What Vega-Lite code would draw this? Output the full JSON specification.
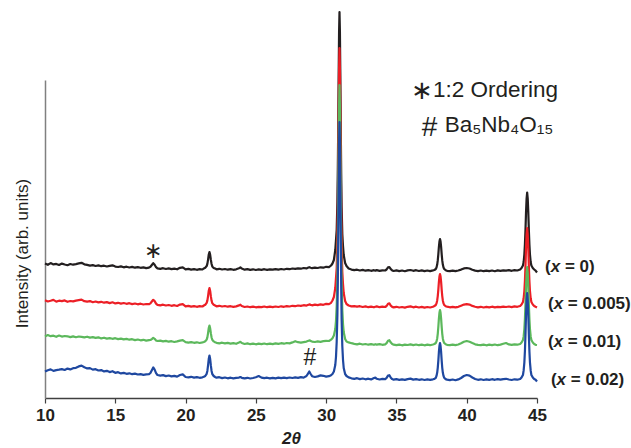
{
"$schema": "https://vega.github.io/schema/vega-lite/v6.json",
"width": 492, "height": 318,
"autosize": {"type": "none"},
"padding": {"left": 45, "top": 80, "right": 94, "bottom": 50},
"background": "white",
"config": {"view": {"stroke": null}, "font": "Liberation Sans"},
"datasets": {
"xrd": [
{"t":10.0,"a":134.5,"b":97.8,"c":61.6,"d":26.4},
{"t":10.2,"a":133.2,"b":96.5,"c":62.9,"d":27.8},
{"t":10.4,"a":134.9,"b":97.2,"c":61.8,"d":28.6},
{"t":10.6,"a":133.6,"b":98.1,"c":62.3,"d":27.1},
{"t":10.8,"a":134.1,"b":96.4,"c":61.2,"d":27.9},
{"t":11.0,"a":133.0,"b":97.3,"c":62.5,"d":28.3},
{"t":11.2,"a":134.4,"b":96.9,"c":61.4,"d":28.9},
{"t":11.4,"a":133.5,"b":97.6,"c":62.0,"d":28.0},
{"t":11.6,"a":132.8,"b":96.2,"c":61.7,"d":29.4},
{"t":11.8,"a":134.0,"b":97.0,"c":60.9,"d":28.6},
{"t":12.0,"a":133.3,"b":96.6,"c":61.6,"d":29.8},
{"t":12.2,"a":133.9,"b":97.4,"c":60.8,"d":30.2},
{"t":12.4,"a":134.6,"b":97.9,"c":61.5,"d":31.6},
{"t":12.6,"a":135.2,"b":98.4,"c":61.1,"d":32.4},
{"t":12.8,"a":133.7,"b":96.8,"c":60.6,"d":30.7},
{"t":13.0,"a":133.1,"b":96.3,"c":61.3,"d":29.6},
{"t":13.2,"a":132.4,"b":96.9,"c":60.4,"d":29.9},
{"t":13.4,"a":132.9,"b":95.8,"c":60.9,"d":28.4},
{"t":13.6,"a":132.0,"b":96.5,"c":60.1,"d":28.8},
{"t":13.8,"a":132.6,"b":95.6,"c":60.7,"d":27.5},
{"t":14.0,"a":131.8,"b":96.2,"c":59.6,"d":27.9},
{"t":14.2,"a":132.3,"b":95.3,"c":60.3,"d":26.6},
{"t":14.4,"a":131.5,"b":95.9,"c":59.4,"d":27.2},
{"t":14.6,"a":132.1,"b":94.9,"c":59.9,"d":25.9},
{"t":14.8,"a":132.7,"b":95.7,"c":59.2,"d":26.8},
{"t":15.0,"a":131.4,"b":94.6,"c":59.8,"d":25.2},
{"t":15.2,"a":131.0,"b":95.2,"c":58.9,"d":25.8},
{"t":15.4,"a":131.6,"b":94.4,"c":59.4,"d":24.6},
{"t":15.6,"a":130.7,"b":95.0,"c":58.6,"d":25.1},
{"t":15.8,"a":131.3,"b":94.2,"c":59.1,"d":24.2},
{"t":16.0,"a":130.5,"b":94.8,"c":58.3,"d":24.7},
{"t":16.2,"a":131.1,"b":93.9,"c":58.8,"d":23.8},
{"t":16.4,"a":130.3,"b":94.5,"c":57.9,"d":24.4},
{"t":16.6,"a":130.9,"b":93.7,"c":58.5,"d":23.5},
{"t":16.8,"a":130.2,"b":94.3,"c":57.7,"d":23.9},
{"t":17.0,"a":130.6,"b":93.5,"c":58.2,"d":23.1},
{"t":17.2,"a":129.9,"b":94.0,"c":57.4,"d":23.6},
{"t":17.4,"a":130.4,"b":93.8,"c":57.9,"d":23.8},
{"t":17.5,"a":131.2,"b":94.6,"c":58.0,"d":25.0},
{"t":17.6,"a":133.0,"b":96.5,"c":58.9,"d":27.8},
{"t":17.7,"a":134.8,"b":98.2,"c":60.2,"d":30.6},
{"t":17.8,"a":133.2,"b":96.9,"c":59.2,"d":28.4},
{"t":17.9,"a":130.8,"b":94.4,"c":57.6,"d":24.9},
{"t":18.0,"a":129.6,"b":93.2,"c":57.0,"d":23.0},
{"t":18.2,"a":129.2,"b":92.7,"c":57.4,"d":22.4},
{"t":18.4,"a":129.8,"b":93.3,"c":56.6,"d":22.9},
{"t":18.6,"a":129.0,"b":92.5,"c":57.1,"d":21.9},
{"t":18.8,"a":129.6,"b":93.0,"c":56.3,"d":22.5},
{"t":19.0,"a":128.9,"b":92.2,"c":56.8,"d":21.6},
{"t":19.2,"a":129.4,"b":92.8,"c":56.0,"d":22.1},
{"t":19.4,"a":128.7,"b":92.0,"c":56.6,"d":21.4},
{"t":19.6,"a":130.2,"b":93.4,"c":57.4,"d":23.0},
{"t":19.8,"a":130.6,"b":93.8,"c":57.8,"d":23.6},
{"t":20.0,"a":128.6,"b":91.6,"c":55.9,"d":21.0},
{"t":20.2,"a":129.1,"b":92.1,"c":55.4,"d":20.6},
{"t":20.4,"a":128.4,"b":91.4,"c":55.9,"d":21.2},
{"t":20.6,"a":128.9,"b":91.9,"c":55.2,"d":20.4},
{"t":20.8,"a":128.2,"b":91.2,"c":55.7,"d":20.9},
{"t":21.0,"a":128.8,"b":91.8,"c":55.0,"d":20.2},
{"t":21.2,"a":128.5,"b":91.5,"c":55.6,"d":20.7},
{"t":21.3,"a":129.6,"b":92.5,"c":56.0,"d":21.2},
{"t":21.4,"a":130.3,"b":93.3,"c":56.7,"d":22.0},
{"t":21.5,"a":131.9,"b":95.1,"c":58.4,"d":24.2},
{"t":21.55,"a":134.1,"b":97.4,"c":60.6,"d":27.1},
{"t":21.6,"a":138.4,"b":101.9,"c":64.9,"d":32.6},
{"t":21.65,"a":143.5,"b":107.3,"c":70.0,"d":39.2},
{"t":21.7,"a":146.0,"b":110.0,"c":72.5,"d":42.5},
{"t":21.75,"a":143.2,"b":107.0,"c":69.7,"d":39.0},
{"t":21.8,"a":138.0,"b":101.6,"c":64.6,"d":32.3},
{"t":21.85,"a":134.0,"b":97.2,"c":60.5,"d":27.0},
{"t":21.9,"a":131.6,"b":94.9,"c":58.2,"d":24.0},
{"t":22.0,"a":130.1,"b":93.2,"c":56.6,"d":22.0},
{"t":22.1,"a":129.4,"b":92.5,"c":55.8,"d":21.0},
{"t":22.2,"a":128.7,"b":91.7,"c":55.2,"d":20.3},
{"t":22.4,"a":129.2,"b":92.2,"c":54.7,"d":20.8},
{"t":22.6,"a":128.5,"b":91.5,"c":55.3,"d":19.9},
{"t":22.8,"a":129.0,"b":92.0,"c":54.6,"d":20.5},
{"t":23.0,"a":128.3,"b":91.3,"c":55.1,"d":19.7},
{"t":23.2,"a":128.9,"b":91.8,"c":54.4,"d":20.3},
{"t":23.4,"a":128.2,"b":91.1,"c":54.9,"d":19.6},
{"t":23.6,"a":128.7,"b":91.6,"c":54.2,"d":20.1},
{"t":23.8,"a":129.8,"b":92.6,"c":55.4,"d":20.4},
{"t":23.9,"a":130.6,"b":93.3,"c":56.2,"d":21.0},
{"t":24.0,"a":129.4,"b":92.0,"c":55.0,"d":20.2},
{"t":24.2,"a":128.3,"b":91.0,"c":54.0,"d":19.6},
{"t":24.4,"a":128.9,"b":91.5,"c":54.6,"d":20.2},
{"t":24.6,"a":128.1,"b":90.8,"c":53.8,"d":19.5},
{"t":24.8,"a":128.7,"b":91.4,"c":54.4,"d":20.0},
{"t":25.0,"a":128.0,"b":90.7,"c":53.7,"d":20.8},
{"t":25.2,"a":128.6,"b":91.2,"c":54.3,"d":22.0},
{"t":25.4,"a":128.2,"b":90.9,"c":53.9,"d":20.4},
{"t":25.6,"a":128.8,"b":91.5,"c":54.5,"d":19.8},
{"t":25.8,"a":128.1,"b":90.8,"c":53.8,"d":20.3},
{"t":26.0,"a":128.7,"b":91.3,"c":54.4,"d":19.6},
{"t":26.2,"a":128.3,"b":90.9,"c":53.9,"d":20.2},
{"t":26.4,"a":128.9,"b":91.5,"c":54.6,"d":19.7},
{"t":26.6,"a":128.4,"b":91.0,"c":54.1,"d":20.3},
{"t":26.8,"a":129.0,"b":91.7,"c":54.8,"d":19.8},
{"t":27.0,"a":128.5,"b":91.2,"c":54.3,"d":20.4},
{"t":27.2,"a":129.2,"b":91.9,"c":55.0,"d":19.9},
{"t":27.4,"a":128.8,"b":91.5,"c":54.6,"d":20.5},
{"t":27.6,"a":129.5,"b":92.2,"c":55.6,"d":20.0},
{"t":27.8,"a":129.1,"b":91.8,"c":56.8,"d":20.6},
{"t":28.0,"a":129.7,"b":92.5,"c":55.8,"d":20.2},
{"t":28.2,"a":129.3,"b":92.1,"c":55.3,"d":20.8},
{"t":28.4,"a":130.0,"b":92.8,"c":55.9,"d":20.4},
{"t":28.6,"a":129.6,"b":92.4,"c":56.4,"d":22.0},
{"t":28.7,"a":130.2,"b":93.0,"c":57.0,"d":24.2},
{"t":28.8,"a":130.8,"b":93.6,"c":57.6,"d":26.5},
{"t":28.9,"a":130.2,"b":93.1,"c":57.1,"d":24.0},
{"t":29.0,"a":129.8,"b":92.7,"c":56.4,"d":21.8},
{"t":29.2,"a":130.4,"b":93.3,"c":56.0,"d":21.0},
{"t":29.4,"a":130.0,"b":92.9,"c":56.6,"d":21.6},
{"t":29.6,"a":130.7,"b":93.6,"c":56.2,"d":22.6},
{"t":29.8,"a":130.3,"b":93.2,"c":56.8,"d":22.2},
{"t":30.0,"a":131.2,"b":94.1,"c":57.2,"d":21.4},
{"t":30.2,"a":130.8,"b":93.8,"c":57.0,"d":21.8},
{"t":30.35,"a":132.5,"b":95.2,"c":58.4,"d":22.8},
{"t":30.45,"a":134.5,"b":97.5,"c":59.8,"d":24.0},
{"t":30.55,"a":138,"b":101,"c":62.5,"d":26.5},
{"t":30.65,"a":148,"b":110,"c":69,"d":33},
{"t":30.7,"a":158,"b":120,"c":77,"d":41},
{"t":30.75,"a":168,"b":130,"c":92,"d":56},
{"t":30.8,"a":196,"b":158,"c":119,"d":83},
{"t":30.83,"a":228,"b":190,"c":152,"d":116},
{"t":30.86,"a":272,"b":234,"c":197,"d":161},
{"t":30.89,"a":322,"b":285,"c":247,"d":211},
{"t":30.92,"a":366,"b":329,"c":292,"d":256},
{"t":30.95,"a":386,"b":350,"c":313,"d":276},
{"t":30.98,"a":366,"b":329,"c":292,"d":256},
{"t":31.01,"a":322,"b":285,"c":247,"d":211},
{"t":31.04,"a":272,"b":234,"c":197,"d":161},
{"t":31.07,"a":226,"b":188,"c":150,"d":114},
{"t":31.1,"a":192,"b":154,"c":115,"d":79},
{"t":31.15,"a":164,"b":126,"c":88,"d":52},
{"t":31.2,"a":152,"b":114,"c":74,"d":38},
{"t":31.25,"a":143,"b":105,"c":66,"d":30},
{"t":31.35,"a":135,"b":97,"c":59,"d":24},
{"t":31.45,"a":132,"b":94,"c":56.5,"d":22},
{"t":31.6,"a":129.5,"b":92.5,"c":55.6,"d":20.6},
{"t":31.8,"a":128.4,"b":91.6,"c":54.8,"d":19.7},
{"t":32.0,"a":127.8,"b":91.9,"c":54.2,"d":19.2},
{"t":32.2,"a":128.3,"b":91.3,"c":53.7,"d":19.8},
{"t":32.4,"a":127.5,"b":91.8,"c":54.3,"d":18.9},
{"t":32.6,"a":128.1,"b":91.0,"c":53.5,"d":19.5},
{"t":32.8,"a":127.3,"b":91.6,"c":54.0,"d":18.7},
{"t":33.0,"a":127.9,"b":90.8,"c":53.3,"d":19.3},
{"t":33.2,"a":127.2,"b":91.4,"c":53.9,"d":18.6},
{"t":33.4,"a":127.8,"b":90.7,"c":53.2,"d":20.0},
{"t":33.5,"a":127.4,"b":91.2,"c":53.8,"d":20.4},
{"t":33.6,"a":127.9,"b":91.6,"c":53.4,"d":19.2},
{"t":33.8,"a":127.1,"b":90.8,"c":53.9,"d":18.5},
{"t":34.0,"a":127.7,"b":91.3,"c":53.2,"d":19.1},
{"t":34.2,"a":127.5,"b":91.0,"c":53.7,"d":18.8},
{"t":34.3,"a":128.5,"b":92.0,"c":54.9,"d":20.1},
{"t":34.4,"a":130.6,"b":94.2,"c":57.2,"d":22.4},
{"t":34.5,"a":130.9,"b":94.6,"c":57.8,"d":22.8},
{"t":34.6,"a":128.8,"b":92.3,"c":55.4,"d":20.3},
{"t":34.7,"a":127.6,"b":91.1,"c":53.9,"d":18.9},
{"t":34.8,"a":127.0,"b":90.6,"c":53.3,"d":18.3},
{"t":35.0,"a":127.6,"b":91.2,"c":52.8,"d":18.8},
{"t":35.2,"a":126.9,"b":90.5,"c":53.4,"d":18.2},
{"t":35.4,"a":127.5,"b":91.0,"c":52.7,"d":18.7},
{"t":35.6,"a":126.8,"b":90.4,"c":53.3,"d":18.1},
{"t":35.8,"a":127.6,"b":91.2,"c":53.0,"d":18.9},
{"t":36.0,"a":128.0,"b":91.6,"c":53.6,"d":19.4},
{"t":36.2,"a":127.2,"b":90.7,"c":52.9,"d":18.4},
{"t":36.4,"a":127.8,"b":91.3,"c":53.5,"d":18.9},
{"t":36.6,"a":127.0,"b":90.5,"c":52.8,"d":18.2},
{"t":36.8,"a":127.6,"b":91.1,"c":53.4,"d":18.7},
{"t":37.0,"a":126.9,"b":90.4,"c":52.7,"d":18.0},
{"t":37.2,"a":127.5,"b":91.0,"c":53.3,"d":18.6},
{"t":37.4,"a":126.9,"b":90.5,"c":52.8,"d":18.1},
{"t":37.6,"a":127.6,"b":91.2,"c":53.5,"d":18.7},
{"t":37.7,"a":128.0,"b":92.0,"c":54.0,"d":19.1},
{"t":37.8,"a":129.0,"b":93.0,"c":55.0,"d":20.2},
{"t":37.85,"a":130.5,"b":94.6,"c":56.6,"d":22.1},
{"t":37.9,"a":133.4,"b":97.6,"c":59.6,"d":25.4},
{"t":37.94,"a":137.6,"b":101.9,"c":64.2,"d":30.2},
{"t":37.98,"a":143.6,"b":108.2,"c":71.0,"d":37.2},
{"t":38.02,"a":151.0,"b":115.8,"c":79.2,"d":45.8},
{"t":38.06,"a":156.4,"b":121.4,"c":85.2,"d":52.0},
{"t":38.1,"a":159.0,"b":124.0,"c":88.0,"d":55.0},
{"t":38.14,"a":156.4,"b":121.4,"c":85.2,"d":52.0},
{"t":38.18,"a":151.0,"b":115.8,"c":79.2,"d":45.8},
{"t":38.22,"a":143.6,"b":108.2,"c":71.0,"d":37.2},
{"t":38.26,"a":137.6,"b":101.9,"c":64.2,"d":30.2},
{"t":38.3,"a":133.4,"b":97.6,"c":59.6,"d":25.4},
{"t":38.35,"a":130.5,"b":94.6,"c":56.6,"d":22.1},
{"t":38.4,"a":129.0,"b":93.0,"c":55.0,"d":20.2},
{"t":38.5,"a":127.8,"b":91.8,"c":53.8,"d":18.9},
{"t":38.6,"a":127.2,"b":91.4,"c":53.2,"d":18.4},
{"t":38.8,"a":126.8,"b":90.7,"c":52.8,"d":17.9},
{"t":39.0,"a":127.4,"b":91.2,"c":53.4,"d":18.5},
{"t":39.2,"a":126.9,"b":90.6,"c":52.9,"d":17.8},
{"t":39.4,"a":127.5,"b":91.2,"c":53.5,"d":18.6},
{"t":39.6,"a":128.4,"b":92.3,"c":54.8,"d":20.0},
{"t":39.8,"a":129.6,"b":93.4,"c":56.3,"d":22.0},
{"t":40.0,"a":130.0,"b":93.8,"c":57.0,"d":23.0},
{"t":40.2,"a":129.5,"b":93.4,"c":56.2,"d":22.4},
{"t":40.4,"a":128.3,"b":92.1,"c":54.9,"d":20.5},
{"t":40.6,"a":127.4,"b":91.3,"c":53.7,"d":19.0},
{"t":40.8,"a":126.9,"b":90.6,"c":53.1,"d":18.2},
{"t":41.0,"a":127.5,"b":91.2,"c":52.8,"d":18.7},
{"t":41.2,"a":126.8,"b":90.5,"c":53.4,"d":18.0},
{"t":41.4,"a":127.4,"b":91.1,"c":52.7,"d":18.6},
{"t":41.6,"a":126.9,"b":90.6,"c":53.3,"d":18.1},
{"t":41.8,"a":127.5,"b":91.3,"c":52.9,"d":18.8},
{"t":42.0,"a":126.8,"b":90.7,"c":53.5,"d":18.2},
{"t":42.2,"a":127.6,"b":91.2,"c":52.8,"d":18.9},
{"t":42.4,"a":127.1,"b":90.8,"c":53.4,"d":18.3},
{"t":42.6,"a":127.7,"b":91.4,"c":54.2,"d":18.9},
{"t":42.8,"a":127.3,"b":91.0,"c":55.0,"d":19.2},
{"t":43.0,"a":127.8,"b":91.5,"c":53.6,"d":18.5},
{"t":43.2,"a":127.2,"b":90.9,"c":53.1,"d":18.0},
{"t":43.4,"a":127.9,"b":91.6,"c":53.7,"d":18.7},
{"t":43.6,"a":127.5,"b":91.2,"c":53.3,"d":18.3},
{"t":43.8,"a":128.5,"b":92.0,"c":54.0,"d":19.0},
{"t":43.9,"a":130.0,"b":93.5,"c":55.5,"d":20.6},
{"t":44.0,"a":132.5,"b":96.0,"c":58.0,"d":23.0},
{"t":44.05,"a":136.0,"b":99.7,"c":61.6,"d":27.6},
{"t":44.1,"a":143.5,"b":107.0,"c":69.0,"d":35.4},
{"t":44.14,"a":153.5,"b":117.0,"c":79.0,"d":46.7},
{"t":44.18,"a":168.0,"b":132.0,"c":93.6,"d":63.2},
{"t":44.22,"a":186.0,"b":150.0,"c":111.5,"d":83.2},
{"t":44.26,"a":199.5,"b":163.7,"c":124.8,"d":98.0},
{"t":44.3,"a":205.5,"b":170.0,"c":131.0,"d":105.0},
{"t":44.34,"a":199.5,"b":163.7,"c":124.8,"d":98.0},
{"t":44.38,"a":186.0,"b":150.0,"c":111.5,"d":83.2},
{"t":44.42,"a":168.0,"b":132.0,"c":93.6,"d":63.2},
{"t":44.46,"a":153.5,"b":117.0,"c":79.0,"d":46.7},
{"t":44.5,"a":143.5,"b":107.0,"c":69.0,"d":35.4},
{"t":44.55,"a":136.0,"b":99.7,"c":61.6,"d":27.6},
{"t":44.6,"a":132.5,"b":96.0,"c":58.0,"d":23.0},
{"t":44.7,"a":130.0,"b":93.5,"c":55.5,"d":20.6},
{"t":44.8,"a":128.5,"b":92.0,"c":54.0,"d":19.0},
{"t":44.9,"a":127.4,"b":91.2,"c":53.2,"d":18.2},
{"t":45.0,"a":125.5,"b":90.5,"c":53.0,"d":16.5}
],
"labels": [
{"t":45.57,"v":131,"p":"= 0)"},
{"t":45.78,"v":94,"p":"= 0.005)"},
{"t":45.78,"v":56,"p":"= 0.01)"},
{"t":45.99,"v":18,"p":"= 0.02)"}
],
"plotstar": [{"t":17.66,"v":147,"s":"∗"}],
"legendstar": [{"t":36.79,"v":307.5,"s":"∗"}],
"plothash": [{"t":28.85,"v":40,"s":"#"}],
"legendhash": [{"t":37.35,"v":270.5,"s":"#"}],
"legendwords": [
{"t":37.6,"v":301.3,"s":"1:2 Ordering"},
{"t":38.43,"v":266.3,"s":"Ba₅Nb₄O₁₅"}
]
},
"layer": [
{
"data": {"name": "xrd"},
"transform": [{"fold": ["a","b","c","d"], "as": ["k","v"]}],
"mark": {"type": "line", "strokeWidth": 2.2, "strokeJoin": "round"},
"encoding": {
"x": {"field": "t", "type": "quantitative", "scale": {"domain": [10,45], "nice": false, "zero": false},
 "axis": {"values": [10,12.5,15,17.5,20,22.5,25,27.5,30,32.5,35,37.5,40,42.5,45],
  "labelExpr": "datum.value % 5 === 0 ? datum.label : ''",
  "labelOverlap": false, "labelFlush": false, "labelBound": false,
  "title": "2θ", "titleFontStyle": "italic", "titleFontWeight": "bold", "titleFontSize": 17, "titleColor": "#231f20", "titlePadding": 7,
  "labelFontSize": 17, "labelFontWeight": "bold", "labelColor": "#231f20", "labelPadding": 4,
  "tickColor": "#404040", "tickSize": 5, "tickWidth": 1.2, "domainColor": "#404040", "domainWidth": 1.5, "grid": false}},
"y": {"field": "v", "type": "quantitative", "scale": {"domain": [0,318], "nice": false, "zero": false},
 "axis": {"ticks": false, "labels": false, "grid": false, "domainColor": "#808080", "domainWidth": 1.5,
  "title": "Intensity (arb. units)", "titleFontWeight": "normal", "titleFontSize": 17, "titleColor": "#231f20", "titlePadding": 14, "titleY": 173}},
"color": {"field": "k", "type": "nominal", "scale": {"domain": ["a","b","c","d"], "range": ["#231f20","#ec1f26","#5cb85c","#1f48a0"]}, "legend": null}
}
},
{
"data": {"name": "labels"},
"mark": {"type": "text", "align": "left", "baseline": "middle", "fontSize": 17, "fontWeight": "bold", "color": "#231f20", "dx": 0},
"encoding": {"x": {"field": "t", "type": "quantitative"}, "y": {"field": "v", "type": "quantitative"}, "text": {"value": "("}}
},
{
"data": {"name": "labels"},
"mark": {"type": "text", "align": "left", "baseline": "middle", "fontSize": 17, "fontWeight": "bold", "fontStyle": "italic", "color": "#231f20", "dx": 5.7},
"encoding": {"x": {"field": "t", "type": "quantitative"}, "y": {"field": "v", "type": "quantitative"}, "text": {"value": "x"}}
},
{
"data": {"name": "labels"},
"mark": {"type": "text", "align": "left", "baseline": "middle", "fontSize": 17, "fontWeight": "bold", "color": "#231f20", "dx": 19.9},
"encoding": {"x": {"field": "t", "type": "quantitative"}, "y": {"field": "v", "type": "quantitative"}, "text": {"field": "p"}}
},
{
"data": {"name": "plotstar"},
"mark": {"type": "text", "align": "center", "baseline": "middle", "fontSize": 22, "color": "#231f20"},
"encoding": {"x": {"field": "t", "type": "quantitative"}, "y": {"field": "v", "type": "quantitative"}, "text": {"field": "s"}}
},
{
"data": {"name": "legendstar"},
"mark": {"type": "text", "align": "center", "baseline": "middle", "fontSize": 26, "color": "#231f20"},
"encoding": {"x": {"field": "t", "type": "quantitative"}, "y": {"field": "v", "type": "quantitative"}, "text": {"field": "s"}}
},
{
"data": {"name": "plothash"},
"mark": {"type": "text", "align": "center", "baseline": "middle", "fontSize": 23, "color": "#231f20"},
"encoding": {"x": {"field": "t", "type": "quantitative"}, "y": {"field": "v", "type": "quantitative"}, "text": {"field": "s"}}
},
{
"data": {"name": "legendhash"},
"mark": {"type": "text", "align": "center", "baseline": "middle", "fontSize": 28, "color": "#231f20"},
"encoding": {"x": {"field": "t", "type": "quantitative"}, "y": {"field": "v", "type": "quantitative"}, "text": {"field": "s"}}
},
{
"data": {"name": "legendwords"},
"mark": {"type": "text", "align": "left", "baseline": "alphabetic", "fontSize": 22.5, "color": "#231f20"},
"encoding": {"x": {"field": "t", "type": "quantitative"}, "y": {"field": "v", "type": "quantitative"}, "text": {"field": "s"}}
}
]
}
